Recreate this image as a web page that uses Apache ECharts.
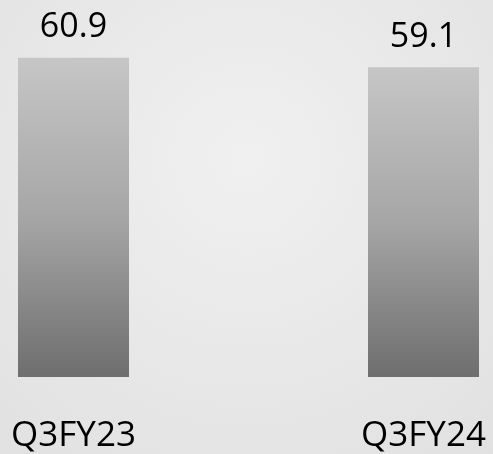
<!DOCTYPE html>
<html><head><meta charset="utf-8">
<script src="https://cdn.jsdelivr.net/npm/echarts@6/dist/echarts.min.js"></script>
<style>html,body{margin:0;padding:0;}#c{width:493px;height:454px;}</style>
</head><body><div id="c"></div>
<script>
const categories = ['Q3FY23', 'Q3FY24'];
const values = [60.9, 59.1];

const chart = echarts.init(document.getElementById('c'));
chart.setOption({
  backgroundColor: {
    type: 'radial', x: 0.5, y: 0.35, r: 0.9,
    colorStops: [{offset: 0, color: '#f0f0f0'}, {offset: 1, color: '#e0e0e0'}]
  },
  grid: {left: 73.5, right: 493 - 423.5, top: 10, bottom: 454 - 379, containLabel: false},
  xAxis: {
    type: 'category', data: categories, boundaryGap: false,
    axisLine: {show: false}, axisTick: {show: false},
    axisLabel: {fontFamily: 'Open Sans', fontSize: 35, color: '#000', margin: 42, showMinLabel: true, showMaxLabel: true}
  },
  yAxis: {type: 'value', min: 0, max: 70, show: false, splitLine: {show: false}},
  series: [{
    type: 'bar', data: values, barWidth: 111, clip: false,
    itemStyle: {color: {type: 'linear', x: 0, y: 0, x2: 0, y2: 1,
      colorStops: [{offset: 0, color: '#c6c6c6'}, {offset: 0.5, color: '#a6a6a6'}, {offset: 1, color: '#6e6e6e'}]}},
    label: {show: true, position: 'top', distance: 13, fontFamily: 'Open Sans', fontSize: 34, color: '#000'}
  }]
});
</script></body></html>
